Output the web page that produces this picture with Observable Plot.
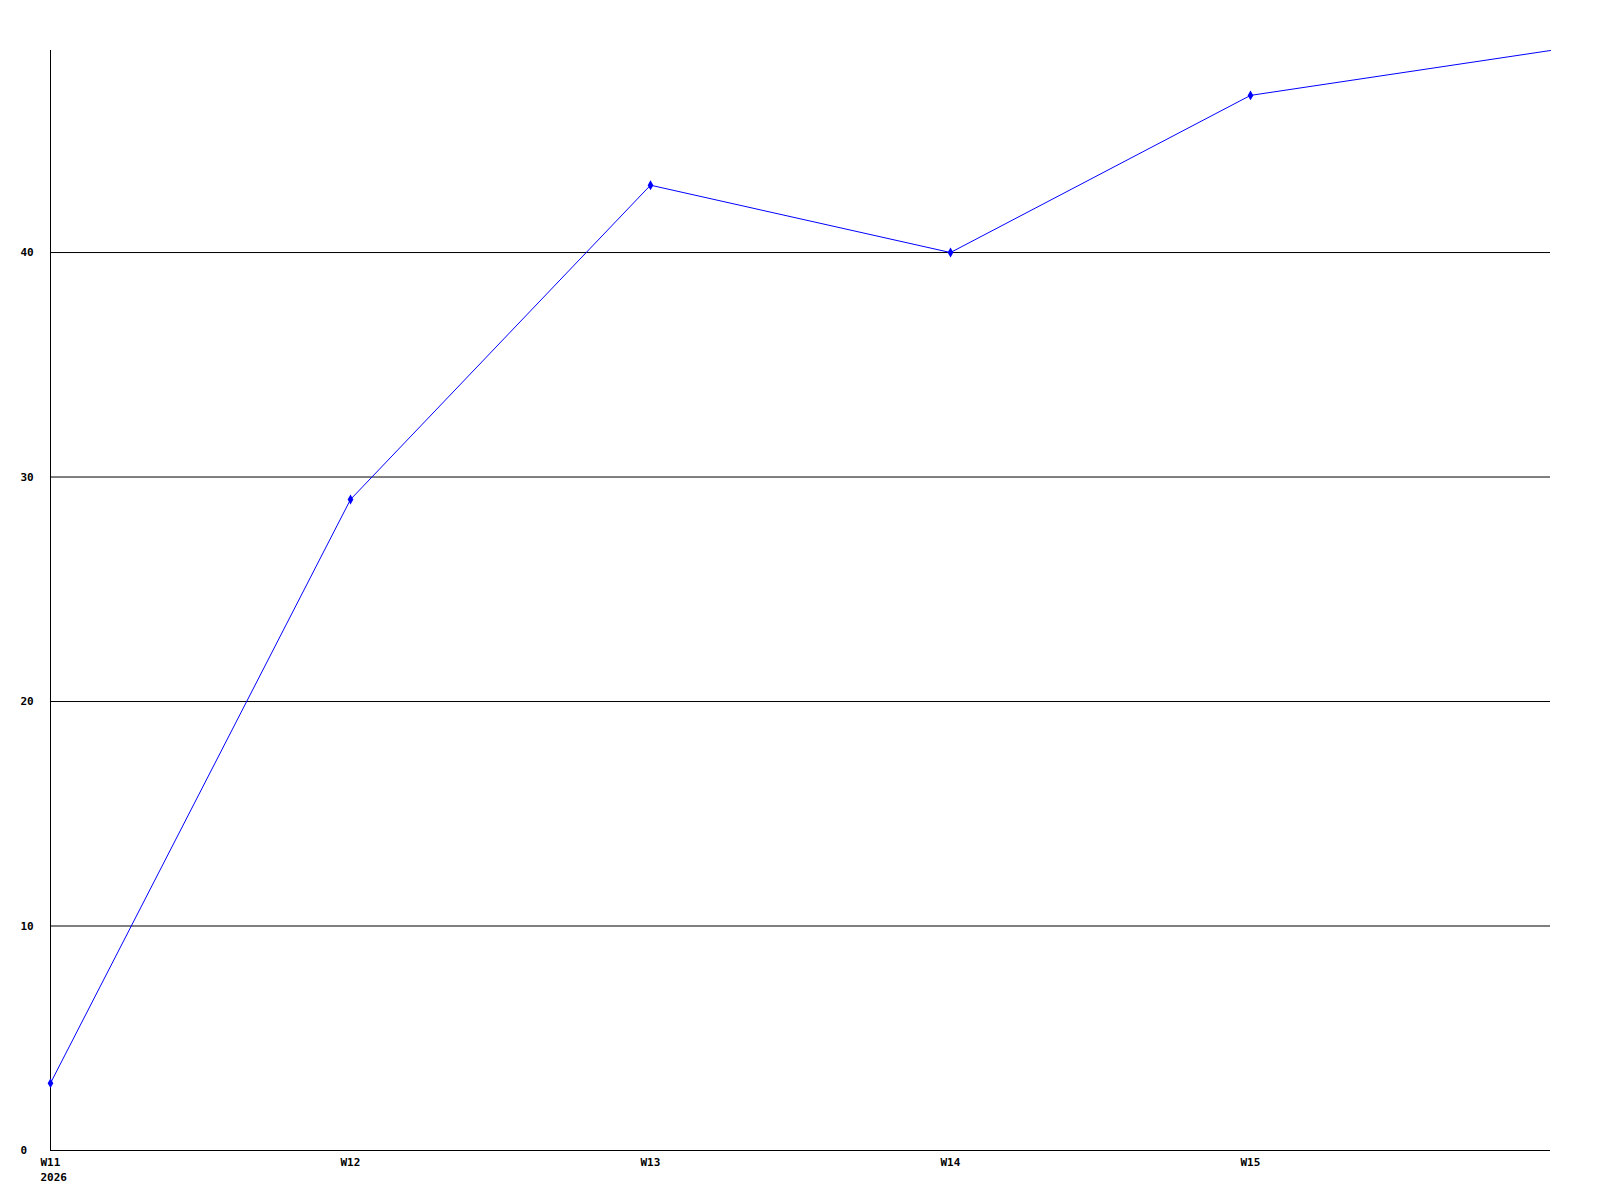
<!DOCTYPE html>
<html>
<head>
<meta charset="utf-8">
<script src="https://cdn.jsdelivr.net/npm/d3@7"></script>
<script src="https://cdn.jsdelivr.net/npm/@observablehq/plot@0.6"></script>
<style>
  html, body { margin: 0; padding: 0; background: #fff; }
  #chart svg { display: block; }
</style>
</head>
<body>
<div id="chart"></div>
<script>
const weeks = [11, 12, 13, 14, 15, 16];
const values = [3, 29, 43, 40, 47, 49];
const markedWeeks = [11, 12, 13, 14, 15];
const xTicks = [11, 12, 13, 14, 15];
const xTickLabels = ["W11\n2026", "W12", "W13", "W14", "W15"];
const yTicks = [0, 10, 20, 30, 40];
const gridValues = [10, 20, 30, 40];

const data = weeks.map((w, i) => ({week: w, value: values[i]}));
const marked = data.filter(d => markedWeeks.includes(d.week));
const labelOf = new Map(xTicks.map((t, i) => [t, xTickLabels[i]]));

const chart = Plot.plot({
  width: 1600,
  height: 1200,
  marginLeft: 50,
  marginRight: 50,
  marginTop: 50,
  marginBottom: 50,
  style: {fontFamily: "'DejaVu Sans Mono', monospace", fontSize: "11px", fontWeight: "bold", background: "#fff", color: "#000"},
  x: {type: "linear", domain: [11, 16]},
  y: {type: "linear", domain: [0, 49]},
  marks: [
    Plot.ruleY(gridValues, {stroke: "#000", strokeWidth: 1}),
    Plot.ruleY([0], {stroke: "#000", strokeWidth: 1}),
    Plot.ruleX([11], {y1: 0, y2: 49, stroke: "#000", strokeWidth: 1}),
    Plot.axisX({ticks: xTicks, tickSize: 0, tickPadding: 5, tickFormat: d => labelOf.get(d), textAnchor: "start", dx: -10, lineHeight: 1.35, label: null, fill: "#000"}),
    Plot.axisY({ticks: yTicks, tickSize: 0, tickPadding: 0, textAnchor: "start", dx: -30, label: null, fill: "#000"}),
    Plot.line(data, {x: "week", y: "value", stroke: "#0000ff", strokeWidth: 1}),
    Plot.dot(marked, {x: "week", y: "value", symbol: "diamond", r: 3, fill: "#0000ff", stroke: "none"})
  ]
});
document.getElementById("chart").appendChild(chart);
</script>
</body>
</html>
